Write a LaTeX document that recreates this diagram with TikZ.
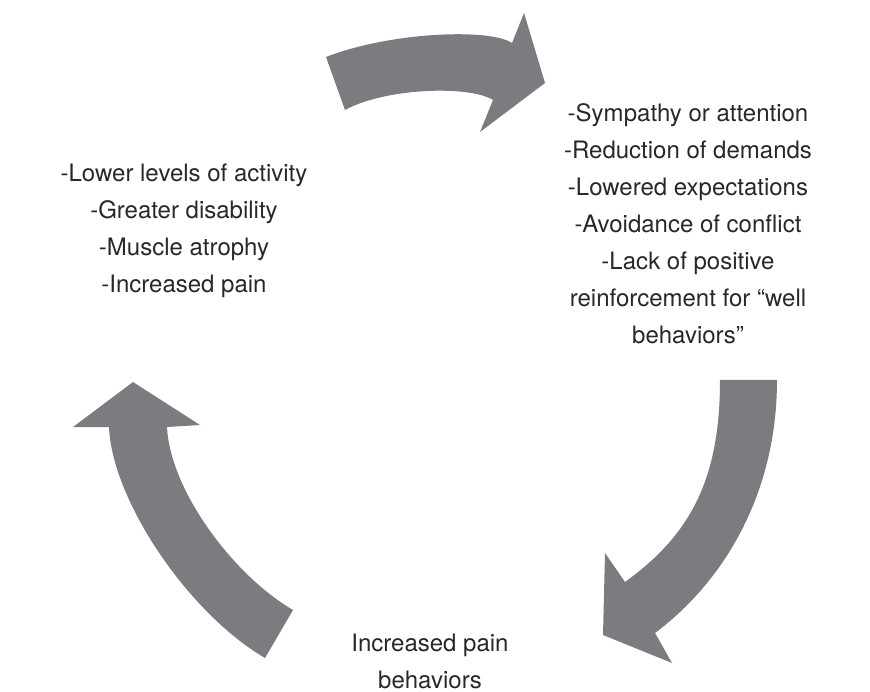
\documentclass[tikz,border=0pt]{standalone}
\usepackage{fontspec}
\setmainfont{TeX Gyre Heros}
\definecolor{arrowgray}{RGB}{123,124,128}
\definecolor{txt}{RGB}{40,40,40}
\tikzset{
  bigarrow/.style={fill=arrowgray, draw=none},
  label/.style={align=center, inner sep=0pt, text=txt, font=\fontsize{24}{37}\selectfont, anchor=north}
}
\begin{document}
\begin{tikzpicture}[x=1pt,y=-1pt]
\useasboundingbox (0,0) rectangle (870,692);
\fill[white] (0,0) rectangle (870,692);
% top arrow
\path[bigarrow] (326,57) .. controls (390,32) and (490,28) .. (512,43) -- (524,13) -- (545,83) -- (480,132) -- (493,100) .. controls (469,85) and (385,88) .. (345,110) -- cycle;
% right arrow
\path[bigarrow] (720,380) -- (777,380) .. controls (777,490) and (727,579) .. (655,633) -- (672,663) -- (603,635) -- (605,553) -- (625,582) .. controls (690,535) and (720,480) .. (720,380) -- cycle;
% left arrow
\path[bigarrow] (265,658) .. controls (188,613) and (112,500) .. (109,427) -- (73,427) -- (133,382) -- (200,425) -- (167,427) .. controls (170,490) and (233,575) .. (293,610) -- cycle;
% texts
\node[label] (left) at (184,164) {-Lower levels of activity\\-Greater disability\\-Muscle atrophy\\-Increased pain};
\node[label] (right) at (688,103) {-Sympathy or attention\\-Reduction of demands\\-Lowered expectations\\-Avoidance of conflict\\-Lack of positive\\reinforcement for “well\\behaviors”};
\node[label] (bottom) at (430,634) {Increased pain\\behaviors};
\end{tikzpicture}
\end{document}
